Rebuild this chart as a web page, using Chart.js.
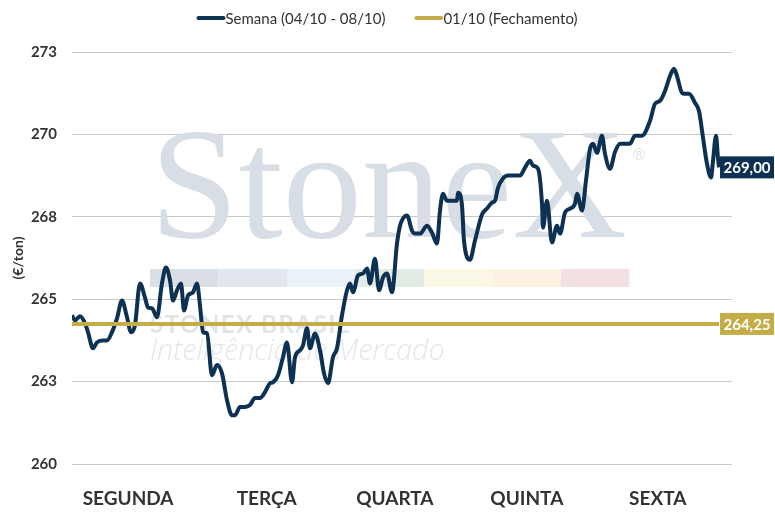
<!DOCTYPE html>
<html lang="pt-BR">
<head>
<meta charset="UTF-8">
<title>Semana (04/10 - 08/10)</title>
<script src="https://cdn.jsdelivr.net/npm/chart.js"></script>
<style>
  html, body { margin: 0; padding: 0; background: #fff; }
  #wrap { width: 775px; height: 519px; }
</style>
</head>
<body>
<div id="wrap"><canvas id="myChart"></canvas></div>
<script>
// data (hours from monday open, price in €/ton)
const hours = [
  0, 0.55, 1.45, 2.36, 2.91, 3.82, 4.55, 5.45, 6.36, 7.27,
  8.18, 9.09, 10.0, 10.73, 11.45, 12.36, 13.27, 13.82, 14.55, 15.45,
  16.36, 17.09, 17.82, 18.36, 19.09, 19.82, 20.36, 21.09, 22.0, 22.73,
  23.27, 23.82, 24.55, 25.45, 26.36, 27.27, 28.18, 29.09, 29.64, 30.55,
  31.45, 32.36, 33.27, 34.18, 35.09, 36.0, 36.55, 37.45, 38.36, 39.09,
  40.0, 40.55, 41.45, 42.0, 42.73, 43.27, 44.18, 45.09, 45.82, 46.55,
  47.45, 48.18, 49.09, 50.0, 50.55, 51.09, 52.0, 52.91, 53.64, 54.18,
  55.09, 55.82, 56.55, 57.27, 58.18, 59.09, 59.64, 60.18, 60.91, 61.82,
  62.36, 63.27, 64.55, 65.45, 66.36, 66.91, 67.45, 68.18, 69.09, 70.0,
  70.18, 70.91, 71.27, 72.36, 73.27, 74.55, 75.45, 76.36, 76.91, 77.45,
  78.36, 79.27, 80.55, 81.45, 82.36, 83.27, 83.82, 84.73, 85.45, 85.64,
  86.36, 87.27, 88.18, 88.73, 89.64, 90.55, 91.45, 91.82, 92.73, 93.45,
  94.18, 94.73, 95.45, 96.36, 96.91, 97.82, 98.73, 99.64, 101.45, 102.36,
  103.64, 105.09, 106.0, 106.91, 107.82, 108.73, 109.45, 110.0, 110.91, 111.45,
  112.18, 113.27, 114.0, 114.73, 115.45, 116.18, 116.55, 117.09, 117.45, 117.64
];
const prices = [
  264.51, 264.36, 264.48, 264.27, 264.00, 263.51, 263.69, 263.75, 263.75, 264.00,
  264.42, 264.96, 264.45, 264.00, 264.21, 265.48, 265.05, 264.75, 264.72, 264.45,
  265.48, 265.96, 265.57, 264.96, 265.27, 265.48, 264.66, 265.11, 265.21, 265.48,
  264.81, 264.00, 263.96, 262.69, 263.00, 262.75, 261.94, 261.48, 261.48, 261.73,
  261.73, 261.79, 262.00, 262.00, 262.18, 262.45, 262.48, 262.69, 263.24, 263.69,
  262.48, 263.24, 263.45, 263.60, 264.12, 263.51, 263.96, 263.45, 262.75, 262.45,
  263.24, 263.51, 264.51, 265.27, 265.48, 265.21, 265.72, 265.78, 265.93, 265.48,
  266.23, 265.27, 265.66, 265.78, 265.21, 266.69, 267.23, 267.45, 267.54, 267.08,
  266.99, 266.99, 267.23, 267.02, 266.69, 267.69, 268.20, 267.99, 267.99, 267.99,
  268.23, 267.84, 266.78, 266.20, 266.78, 267.57, 267.75, 267.93, 267.99, 268.38,
  268.66, 268.75, 268.75, 268.75, 268.99, 269.20, 269.05, 268.96, 267.90, 267.17,
  267.99, 266.72, 267.23, 266.99, 267.63, 267.75, 267.90, 268.20, 267.69, 268.60,
  269.56, 269.72, 269.44, 269.96, 269.41, 268.96, 269.47, 269.72, 269.72, 269.96,
  269.96, 270.41, 270.93, 271.02, 271.32, 271.77, 271.99, 271.77, 271.26, 271.23,
  271.23, 270.96, 270.71, 269.90, 269.11, 268.69, 269.20, 269.96, 269.29, 269.00
];
const closePrice = 264.25;
const seriesNames = ["Semana (04/10 - 08/10)", "01/10 (Fechamento)"];
const dayLabels = ["SEGUNDA", "TERÇA", "QUARTA", "QUINTA", "SEXTA"];
const dayTicks = [10.2, 35.4, 58.7, 82.7, 106.5];
const yTicks = [260, 262.5, 265, 267.5, 270, 272.5];

const NAVY = "#0c3152";
const GOLD = "#c4ad48";

// watermark behind the lines
const watermark = {
  id: "watermark",
  beforeDatasetsDraw(chart) {
    const ctx = chart.ctx;
    ctx.save();
    function fit(text, style, family, x, base, w, color) {
      ctx.font = style + " 100px " + family;
      const size = 100 * w / ctx.measureText(text).width;
      ctx.font = style + " " + size.toFixed(1) + "px " + family;
      ctx.fillStyle = color;
      ctx.textBaseline = "alphabetic";
      ctx.textAlign = "left";
      ctx.fillText(text, x, base);
    }
    fit("StoneX", "normal", "'Liberation Serif', serif", 150, 237, 477, "#d8dee5");
    ctx.font = "16px 'DejaVu Sans'";
    ctx.fillStyle = "#e1e5ea";
    ctx.fillText("®", 631, 160);
    const strip = ["#dadfe6", "#e2e7ee", "#ebf1f8", "#e3ebe5", "#fbf8e6", "#fdf2e1", "#f2e0e2"];
    strip.forEach((c, i) => {
      ctx.fillStyle = c;
      ctx.fillRect(150 + i * 68.5, 269, 68.5, 18);
    });
    ctx.font = "bold 24px 'Lato', sans-serif";
    ctx.letterSpacing = "1.5px";
    ctx.fillStyle = "#e1e5ea";
    ctx.fillText("STONEX BRASIL", 150, 333);
    ctx.letterSpacing = "0px";
    fit("Inteligência de Mercado", "italic 300", "'Open Sans', sans-serif", 150, 360, 295, "#e3e7ec");
    ctx.restore();
  }
};

// last value boxes at right, and the legend on top
const extras = {
  id: "extras",
  afterDraw(chart) {
    const ctx = chart.ctx;
    ctx.save();
    chart.data.datasets.forEach((ds, i) => {
      const meta = chart.getDatasetMeta(i);
      const pt = meta.data[meta.data.length - 1];
      const val = ds.data[ds.data.length - 1].y;
      const x0 = pt.x + 1;
      ctx.fillStyle = ds.borderColor;
      ctx.fillRect(x0, pt.y - 11, 54, 22);
      ctx.fillStyle = "#fff";
      ctx.font = "bold 15px 'Lato', sans-serif";
      ctx.textAlign = "center";
      ctx.textBaseline = "middle";
      ctx.fillText(val.toFixed(2).replace(".", ","), x0 + 27, pt.y + 1);
    });

    ctx.font = "15px 'Lato', sans-serif";
    const items = chart.data.datasets.map(ds => ({
      text: ds.label, color: ds.borderColor, w: 30 + ctx.measureText(ds.label).width
    }));
    const gap = 28;
    const total = items.reduce((s, it) => s + it.w, 0) + gap * (items.length - 1);
    let x = (chart.width - total) / 2;
    const y = 18;
    items.forEach(it => {
      ctx.strokeStyle = it.color;
      ctx.lineWidth = 4;
      ctx.lineCap = "round";
      ctx.beginPath();
      ctx.moveTo(x + 2, y);
      ctx.lineTo(x + 27, y);
      ctx.stroke();
      ctx.fillStyle = "#333";
      ctx.textAlign = "left";
      ctx.textBaseline = "middle";
      ctx.fillText(it.text, x + 29, y + 1);
      x += it.w + gap;
    });
    ctx.restore();
  }
};

const weekData = hours.map((h, i) => ({ x: h, y: prices[i] }));
const closeData = [
  { x: hours[0], y: closePrice },
  { x: hours[hours.length - 1], y: closePrice }
];

const config = {
  type: "line",
  data: {
    datasets: [
      {
        label: seriesNames[0],
        data: weekData,
        borderColor: NAVY,
        backgroundColor: NAVY,
        borderWidth: 4,
        pointRadius: 0,
        cubicInterpolationMode: "monotone",
        order: 1
      },
      {
        label: seriesNames[1],
        data: closeData,
        borderColor: GOLD,
        backgroundColor: GOLD,
        borderWidth: 4,
        pointRadius: 0,
        order: 0
      }
    ]
  },
  options: {
    responsive: true,
    maintainAspectRatio: false,
    animation: false,
    layout: { padding: { top: 52, right: 43, left: 0, bottom: 0 } },
    plugins: {
      legend: { display: false },
      tooltip: { enabled: false }
    },
    scales: {
      x: {
        type: "linear",
        min: 0,
        max: 120,
        afterBuildTicks: s => { s.ticks = dayTicks.map(v => ({ value: v })); },
        afterFit: s => { s.height = 55; },
        grid: { display: false },
        border: { display: false },
        ticks: {
          autoSkip: false,
          maxRotation: 0,
          padding: 15,
          color: "#333",
          font: { family: "Lato", size: 19, weight: "bold" },
          callback: (v, i) => dayLabels[i]
        }
      },
      y: {
        min: 260,
        max: 272.5,
        afterBuildTicks: s => { s.ticks = yTicks.map(v => ({ value: v })); },
        afterFit: s => { s.width = 72; },
        grid: { color: "#c8c8c8", lineWidth: 1, drawTicks: false },
        border: { display: false },
        ticks: {
          padding: 15,
          color: "#333",
          font: { family: "Lato", size: 15, weight: "bold" },
          callback: v => v.toFixed(0)
        },
        title: {
          display: true,
          text: "(€/ton)",
          color: "#333",
          font: { family: "Lato", size: 14, weight: "bold" },
          padding: { top: 10, bottom: 0 }
        }
      }
    }
  },
  plugins: [watermark, extras]
};

const myChart = new Chart(document.getElementById("myChart"), config);
</script>
</body>
</html>
